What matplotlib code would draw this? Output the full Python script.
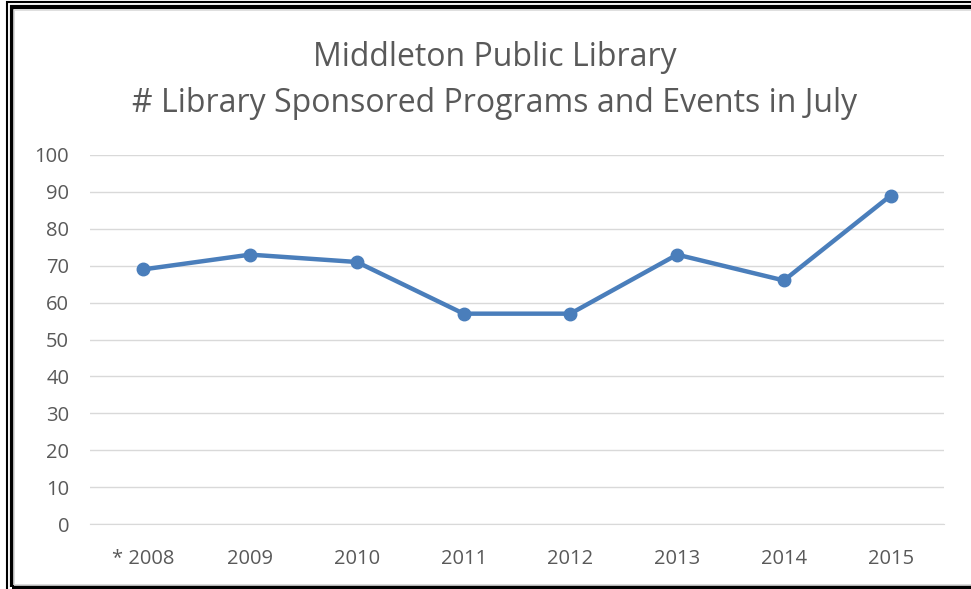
import matplotlib.pyplot as plt
from matplotlib.patches import Rectangle

years = ['* 2008', '2009', '2010', '2011', '2012', '2013', '2014', '2015']
programs = [69, 73, 71, 57, 57, 73, 66, 89]
yticks = list(range(0, 101, 10))

plt.rcParams['font.family'] = ['Open Sans', 'DejaVu Sans']

W, H = 971, 589
fig = plt.figure(figsize=(W / 100, H / 100), dpi=100)
ax = fig.add_axes([90 / W, 1 - 524 / H, (944 - 90) / W, (524 - 155) / H])

x = list(range(len(years)))
ax.plot(x, programs, color='#4a7ebb', linewidth=3.2, marker='o', markersize=9,
        solid_capstyle='round', zorder=3)

ax.set_xlim(-0.5, len(years) - 0.5)
ax.set_ylim(0, 100)
ax.set_yticks(yticks)
ax.set_xticks(x)
ax.set_xticklabels(years)
ax.grid(axis='y', color='#d9d9d9', linewidth=1)
ax.set_axisbelow(True)
for s in ax.spines.values():
    s.set_visible(False)
ax.spines['bottom'].set_visible(True)
ax.spines['bottom'].set_color('#d9d9d9')
ax.tick_params(length=0, labelsize=14.5, labelcolor='#595959')
ax.tick_params(axis='y', pad=15)
ax.tick_params(axis='x', pad=18)
for lbl in ax.get_yticklabels():
    lbl.set_horizontalalignment('right')

fig.text(495 / W, 1 - 58 / H, 'Middleton Public Library', ha='center', va='center',
         fontsize=23, color='#595959')
fig.text(495 / W, 1 - 103 / H, '# Library Sponsored Programs and Events in July',
         ha='center', va='center', fontsize=23, color='#595959')

# frame around the chart
fig.patches.append(Rectangle((7 / W, -0.1), 1.2, 1 - 2.5 / H + 0.1, transform=fig.transFigure,
                             fill=False, edgecolor='black', linewidth=1.5))
fig.patches.append(Rectangle((11.5 / W, 1 - 587 / H), 1.2, (587 - 6.5) / H,
                             transform=fig.transFigure, fill=False, edgecolor='black',
                             linewidth=3))
fig.patches.append(Rectangle((14 / W, 1 - 584.5 / H), 1.2, (584.5 - 9.5) / H,
                             transform=fig.transFigure, fill=False, edgecolor='#d9d9d9',
                             linewidth=1.2))

fig.savefig('out.png', dpi=100)
